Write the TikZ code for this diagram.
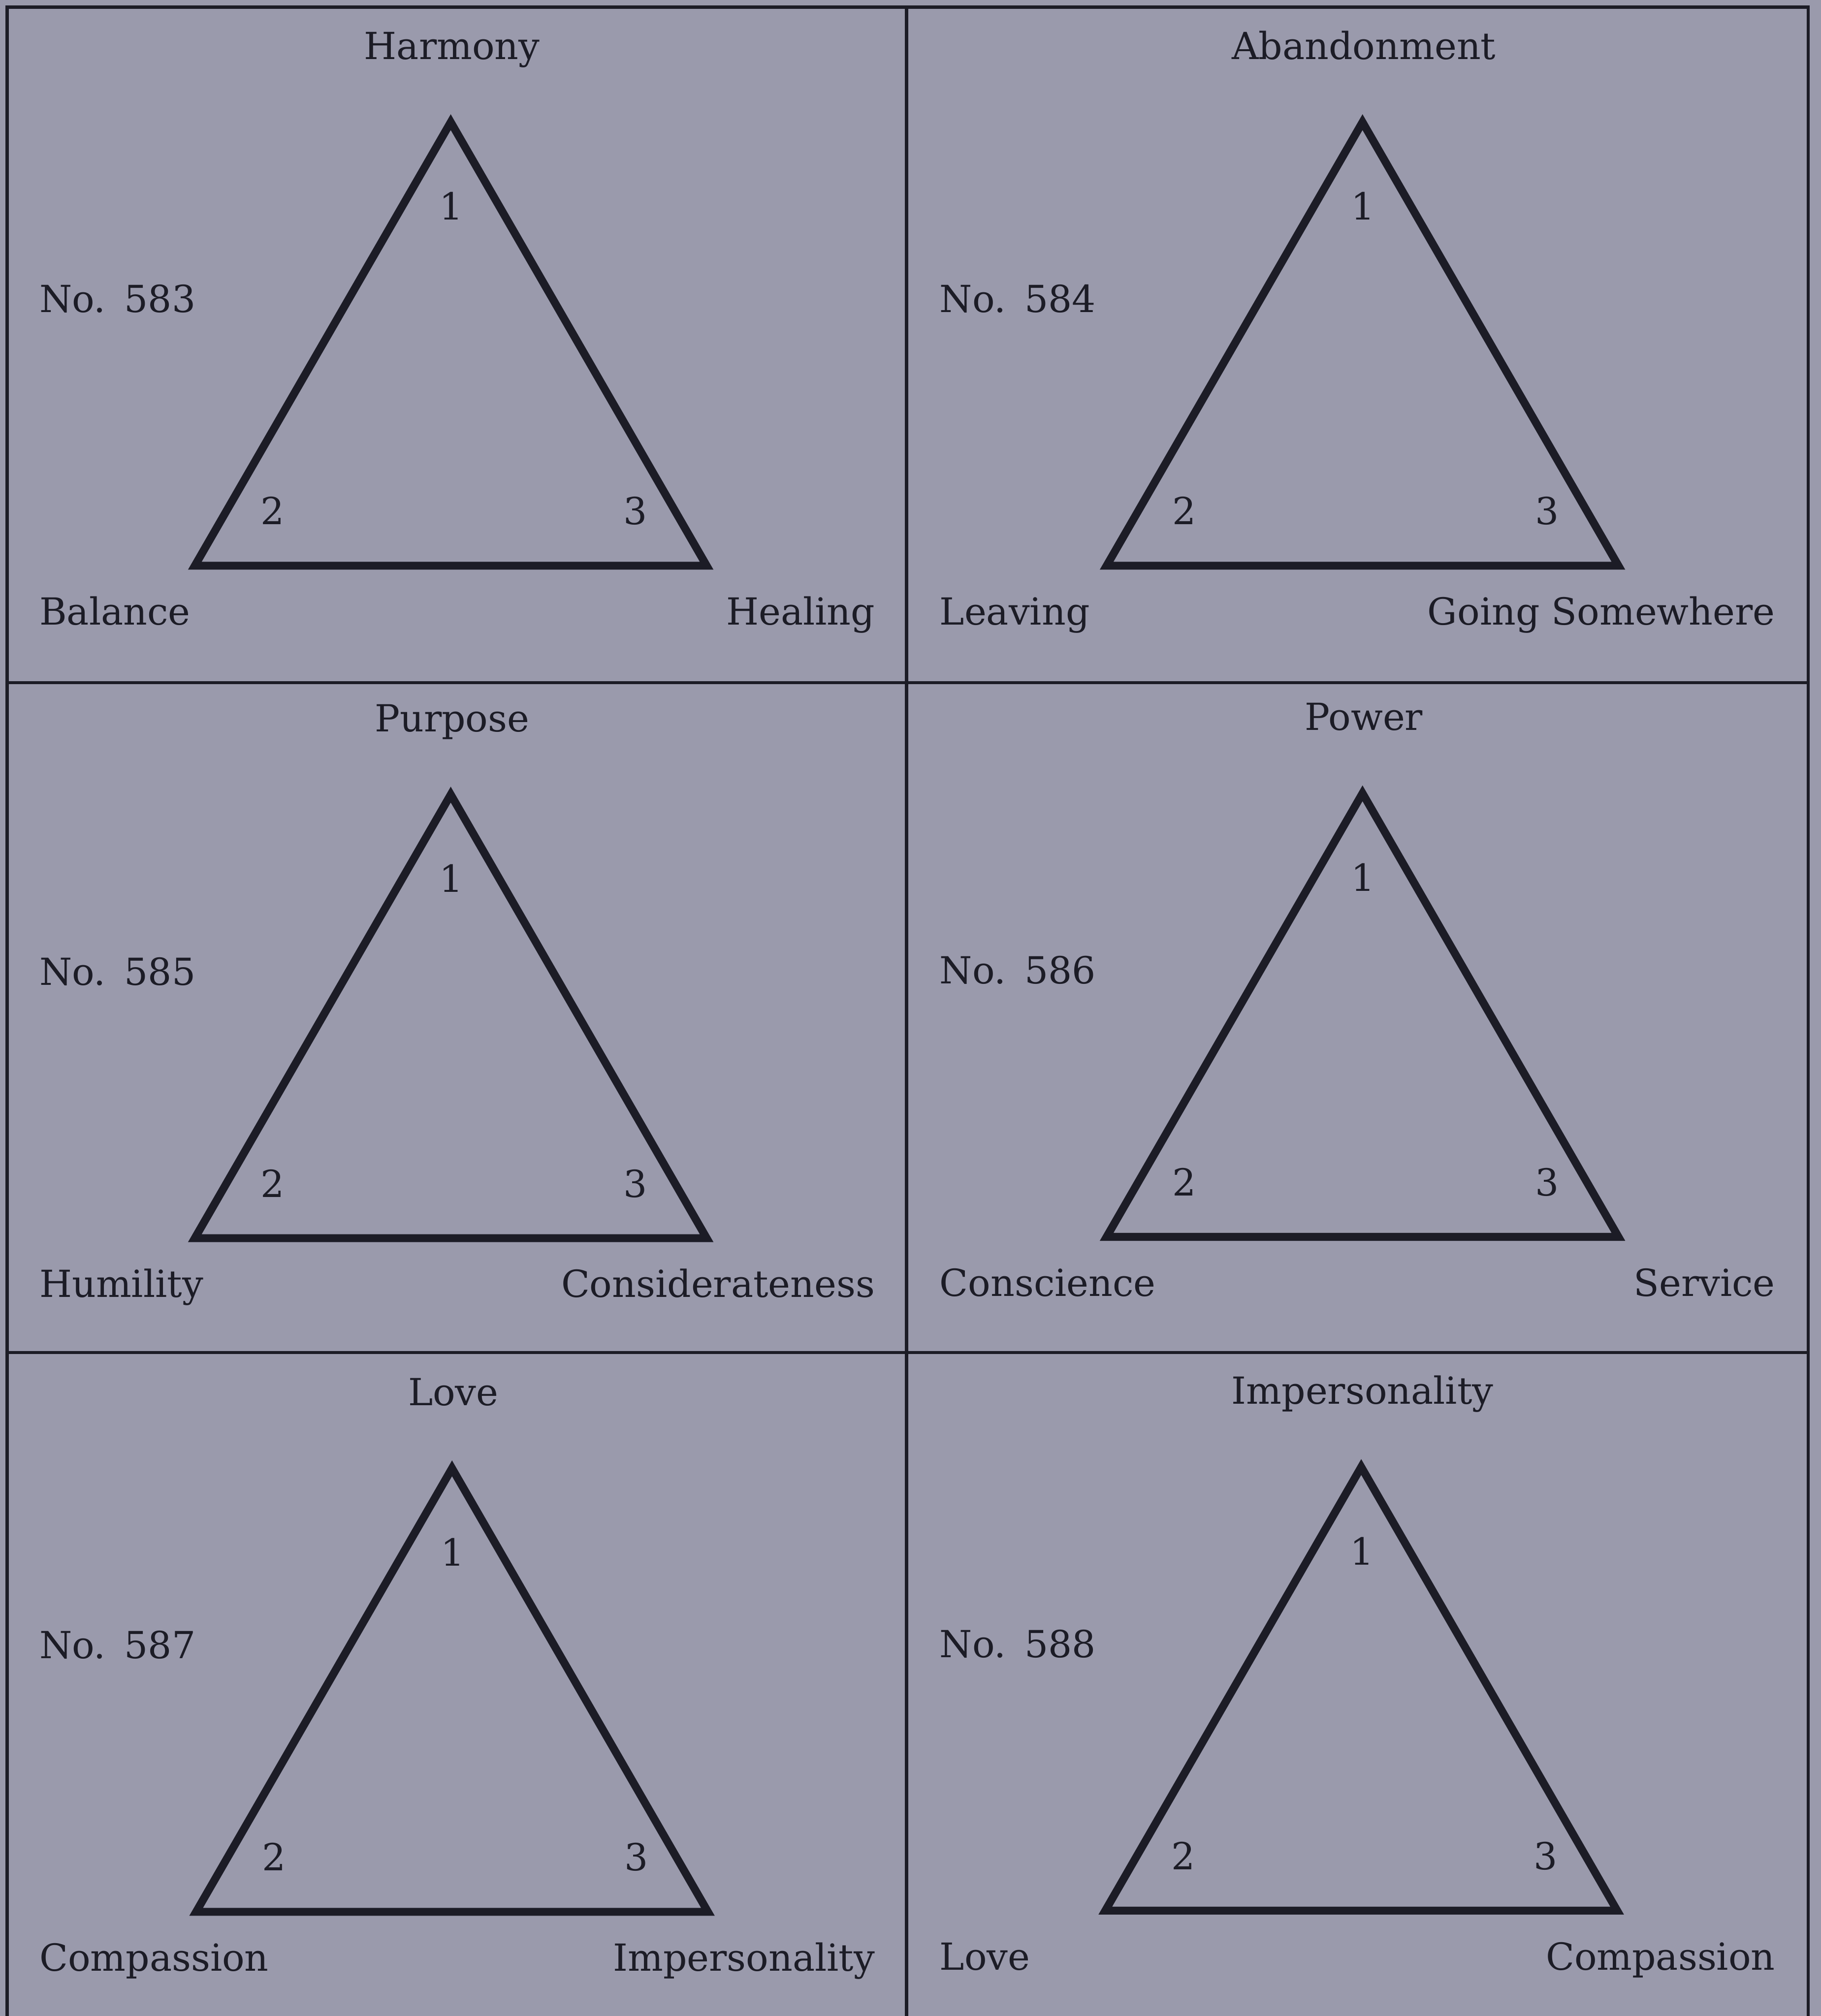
\documentclass[tikz,border=0pt]{standalone}
\usepackage{fontspec}
\setmainfont{DejaVu Serif}
\usepackage{xcolor}
\usepackage{tikz}
\usetikzlibrary{positioning}
\definecolor{paper}{RGB}{154, 154, 172}
\definecolor{ink}{RGB}{28, 28, 38}
% #1 name, #2 panel left, #3 triangle centre, #4 apex top, #5 title, #6 number, #7 left, #8 right
\newcommand{\triad}[8]{
\coordinate (#1-a) at (#3,#4+6);
\coordinate (#1-b) at (#3-199,#4+351);
\coordinate (#1-c) at (#3+199,#4+351);
\draw[tri] (#1-a) -- (#1-b) -- (#1-c) -- cycle;
\node[lbl] (#1-t) at (#3+1,#4-43) {#5};
\node[lbl] (#1-n1) at (#3+0.5,#4+82) {1};
\node[lbl] (#1-n2) at (#3-138.5,#4+319) {2};
\node[lbl] (#1-n3) at (#3+143.5,#4+319) {3};
\node[lbl, anchor=base west] (#1-no) at (#2+25,#4+154) {No.\enspace#6};
\node[lbl, anchor=base west] (#1-l) at (#2+25,#4+397) {#7};
\node[lbl, anchor=base east] (#1-r) at (#2+676,#4+397) {#8};
}

\begin{document}
\begin{tikzpicture}[x=0.01cm, y=-0.01cm,
    lbl/.style={inner sep=0pt, anchor=base, text=ink, font=\fontsize{8.25}{10}\selectfont},
    tri/.style={draw=ink, line width=1.75pt, miter limit=10},
    rule/.style={draw=ink, line width=0.7pt}]
    \fill[paper] (0,0) rectangle (1416,1568);
    \useasboundingbox (0,0) rectangle (1416,1568);
    % frame
    \coordinate (tl) at (5.5,5.5);
    \coordinate (tm) at (705,5.5);
    \coordinate (tr) at (1406,5.5);
    \coordinate (bl) at (5.5,1570);
    \coordinate (bm) at (705,1570);
    \coordinate (br) at (1406,1570);
    \coordinate (ml) at (5.5,531);
    \coordinate (mr) at (1406,531);
    \coordinate (ll) at (5.5,1052);
    \coordinate (lr) at (1406,1052);
    \draw[rule] (bl) -- (tl) -- (tr) -- (br);
    \draw[rule] (tm) -- (bm);
    \draw[rule] (ml) -- (mr);
    \draw[rule] (ll) -- (lr);
    % panels
    \triad{p1}{5}{350.5}{89}{Harmony}{583}{Balance}{Healing}
    \triad{p2}{705}{1059.5}{89}{Abandonment}{584}{Leaving}{Going Somewhere}
    \triad{p3}{5}{350.5}{612}{Purpose}{585}{Humility}{Considerateness}
    \triad{p4}{705}{1059.5}{611}{Power}{586}{Conscience}{Service}
    \triad{p5}{5}{351.5}{1136}{Love}{587}{Compassion}{Impersonality}
    \triad{p6}{705}{1058.5}{1135}{Impersonality}{588}{Love}{Compassion}
\end{tikzpicture}
\end{document}
